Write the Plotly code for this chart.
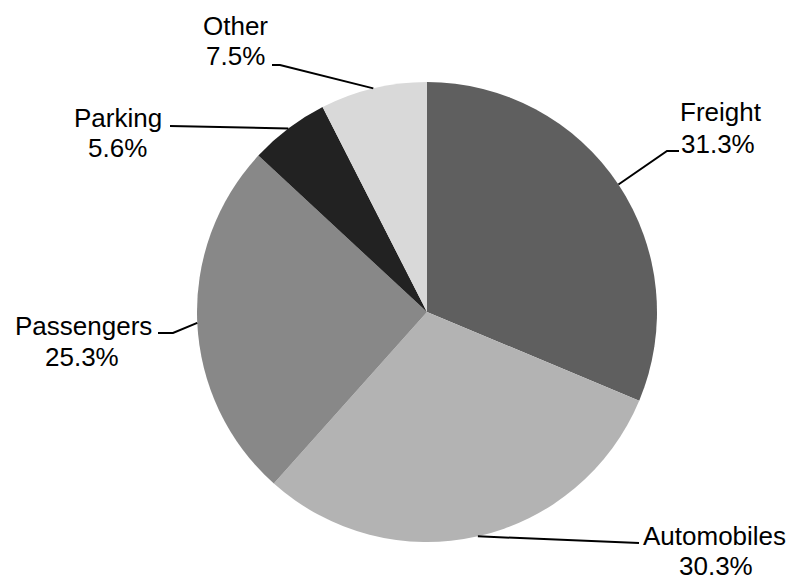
import math
import plotly.graph_objects as go

categories = ["Freight", "Automobiles", "Passengers", "Parking", "Other"]
values = [31.3, 30.3, 25.3, 5.6, 7.5]
colors = ["#5f5f5f", "#b3b3b3", "#888888", "#222222", "#d9d9d9"]

W, H = 796, 575
OFF = 8  # page body margin
FW, FH = W - OFF, H - OFF  # figure fits inside the viewport
CX, CY, R = 427, 312, 230  # pie centre / radius in page px (layout)

# label layout (page px): name line centre, pct line centre
label_pos = {
    "Freight": ((721, 112), (718, 144)),
    "Automobiles": ((714, 536), (716, 566)),
    "Passengers": ((83, 326), (82, 357)),
    "Parking": ((118, 118), (117, 148)),
    "Other": ((236, 26), (235, 56)),
}
elbows = {
    "Freight": [(667, 151), (679, 151)],
    "Automobiles": [(639, 543)],
    "Passengers": [(173, 333), (158, 333)],
    "Parking": [(170, 126)],
    "Other": [(280, 65), (272, 65)],
}

def px(x, y):
    return (x - OFF) / FW, 1 - (y - OFF) / FH

x0, y1 = px(CX - R, CY - R)
x1, y0 = px(CX + R, CY + R)
fig = go.Figure(go.Pie(
    labels=categories, values=values, sort=False, direction="clockwise",
    rotation=0, marker=dict(colors=colors, line=dict(width=0)),
    textinfo="none", hoverinfo="skip", showlegend=False,
    domain=dict(x=[x0, x1], y=[y0, y1]),
))

font = dict(family="Liberation Sans, Arial", size=26, color="black")
total = sum(values)
cum = 0
shapes, annotations = [], []
for cat, v in zip(categories, values):
    mid = (cum + v / 2) / total * 2 * math.pi
    cum += v
    ex = CX + R * math.sin(mid)
    ey = CY - R * math.cos(mid)
    pts = [(ex, ey)] + elbows[cat]
    path = "M " + " L ".join(f"{px(x, y)[0]:.5f},{px(x, y)[1]:.5f}" for x, y in pts)
    shapes.append(dict(type="path", xref="paper", yref="paper", path=path,
                       line=dict(color="black", width=2)))
    for txt, (lx, ly) in zip([cat, f"{v:.1f}%"], label_pos[cat]):
        ax, ay = px(lx, ly)
        annotations.append(dict(x=ax, y=ay, xref="paper", yref="paper",
                                text=txt, showarrow=False,
                                xanchor="center", yanchor="middle",
                                font=font))

fig.update_layout(
    width=FW, height=FH, margin=dict(l=0, r=0, t=0, b=0),
    paper_bgcolor="white", plot_bgcolor="white",
    shapes=shapes, annotations=annotations,
)
fig.write_html("out.html")
